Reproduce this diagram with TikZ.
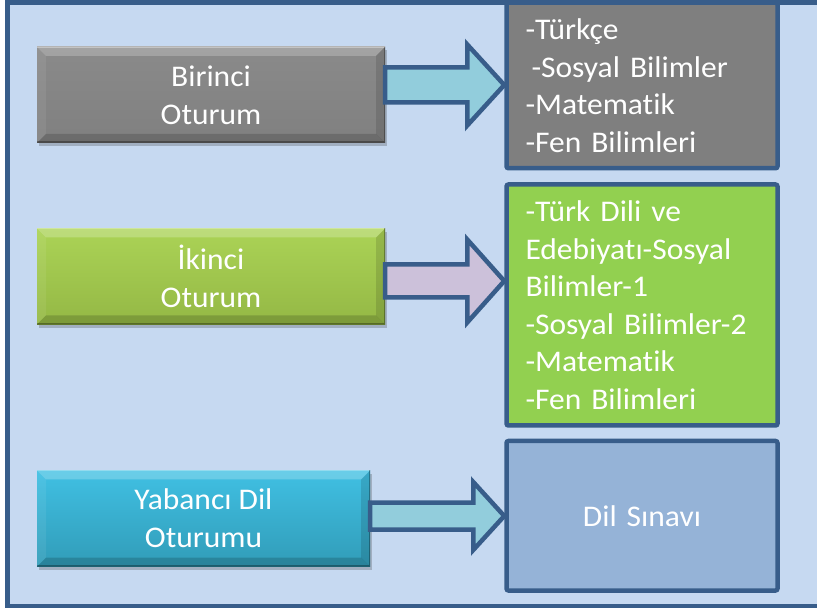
\documentclass[tikz,border=0pt]{standalone}
\usepackage{fontspec}
\setmainfont[Ligatures=NoCommon, FakeStretch=1.05]{Carlito}
\usetikzlibrary{calc,shadows}
\definecolor{frameblue}{HTML}{385D8A}
\definecolor{bgblue}{HTML}{C6D9F1}
\definecolor{graytgt}{HTML}{7F7F7F}
\definecolor{greentgt}{HTML}{92D050}
\definecolor{bluetgt}{HTML}{95B3D7}
\definecolor{arrowcyan}{HTML}{92CDDC}
\definecolor{arrowlav}{HTML}{CCC1DA}
\definecolor{grayA}{HTML}{8A8A8A}
\definecolor{grayB}{HTML}{808080}
\definecolor{greenA}{HTML}{ABD356}
\definecolor{greenB}{HTML}{94B845}
\definecolor{cyanA}{HTML}{40C0E3}
\definecolor{cyanB}{HTML}{319CB8}
\tikzset{
  sessionbox/.style={minimum width=348pt, minimum height=96pt, inner sep=0pt,
    text=white, align=center, font=\fontsize{30}{38}\selectfont,
    drop shadow={shadow xshift=2pt, shadow yshift=-3.5pt, opacity=0.25, fill=black!80},
    path picture={
      \fill[white,opacity=0.22] (path picture bounding box.north west) -- (path picture bounding box.north east)
        -- ([xshift=-9pt,yshift=-9pt]path picture bounding box.north east) -- ([xshift=9pt,yshift=-9pt]path picture bounding box.north west) -- cycle;
      \fill[black,opacity=0.16] (path picture bounding box.south west) -- (path picture bounding box.south east)
        -- ([xshift=-9pt,yshift=9pt]path picture bounding box.south east) -- ([xshift=9pt,yshift=9pt]path picture bounding box.south west) -- cycle;
      \fill[white,opacity=0.07] (path picture bounding box.north west) -- ([xshift=9pt,yshift=-9pt]path picture bounding box.north west)
        -- ([xshift=9pt,yshift=9pt]path picture bounding box.south west) -- (path picture bounding box.south west) -- cycle;
      \fill[black,opacity=0.12] (path picture bounding box.north east) -- ([xshift=-9pt,yshift=-9pt]path picture bounding box.north east)
        -- ([xshift=-9pt,yshift=9pt]path picture bounding box.south east) -- (path picture bounding box.south east) -- cycle;
      \draw[white,opacity=0.35,line width=2pt] (path picture bounding box.north west) -- (path picture bounding box.north east);
      \draw[black,opacity=0.3,line width=3pt] (path picture bounding box.south west) -- (path picture bounding box.south east) -- (path picture bounding box.north east);
    }},
  targetbox/.style={draw=frameblue, line width=4.5pt, rounded corners=2pt, minimum width=271pt,
    inner xsep=19pt, inner ysep=0pt, text width=233pt, align=left, text=white,
    font=\fontsize{30}{37.5}\selectfont},
  arrowline/.style={draw=frameblue, line width=4.5pt, line join=miter},
}
\newcommand\blockarrow[7]{%
  \draw[arrowline, fill=#1] let \p1=(#2.east), \p2=(#3.west), \p3=(#4) in
    (\x1,\y3+#5pt) -- (\x2-#7pt,\y3+#5pt) -- (\x2-#7pt,\y3+#6pt) -- (\x2,\y3)
    -- (\x2-#7pt,\y3-#6pt) -- (\x2-#7pt,\y3-#5pt) -- (\x1,\y3-#5pt) -- cycle;}
\begin{document}
\begin{tikzpicture}[x=1pt,y=-1pt]
\useasboundingbox (0,0) rectangle (817,609);
\fill[white] (0,0) rectangle (817,609);
\draw[frameblue, line width=4.5pt, fill=bgblue] (7.5,2.5) rectangle (840,606);

% left session boxes
\node[sessionbox, top color=grayA, bottom color=grayB] (b1) at (211,95) {Birinci\\Oturum};
\node[sessionbox, top color=greenA, bottom color=greenB] (b2) at (211,276.5) {İkinci\\Oturum};
\node[sessionbox, minimum width=333pt, top color=cyanA, bottom color=cyanB] (b3) at (203.5,518.5) {Yabancı Dil\\Oturumu};

% right content boxes
\node[targetbox, fill=graytgt, minimum height=165.5pt] (t1) at (642,85.5)
  {-Türkçe\\\hspace*{6pt}-Sosyal Bilimler\\-Matematik\\-Fen Bilimleri};
\node[targetbox, fill=greentgt, minimum height=241pt] (t2) at (642,305)
  {-Türk Dili ve\\Edebiyatı-Sosyal\\Bilimler-1\\-Sosyal Bilimler-2\\-Matematik\\-Fen Bilimleri};
\node[targetbox, fill=bluetgt, minimum height=149.5pt, align=center] (t3) at (642,515.75)
  {Dil Sınavı};

% arrows
\coordinate (y1) at (0,85);
\coordinate (y2) at (0,281);
\coordinate (y3) at (0,516);
\blockarrow{arrowcyan}{b1}{t1}{y1}{17.5}{40.5}{37}
\blockarrow{arrowlav}{b2}{t2}{y2}{16.5}{41.5}{37}
\blockarrow{arrowcyan}{b3}{t3}{y3}{13.5}{34}{31}
\end{tikzpicture}
\end{document}
